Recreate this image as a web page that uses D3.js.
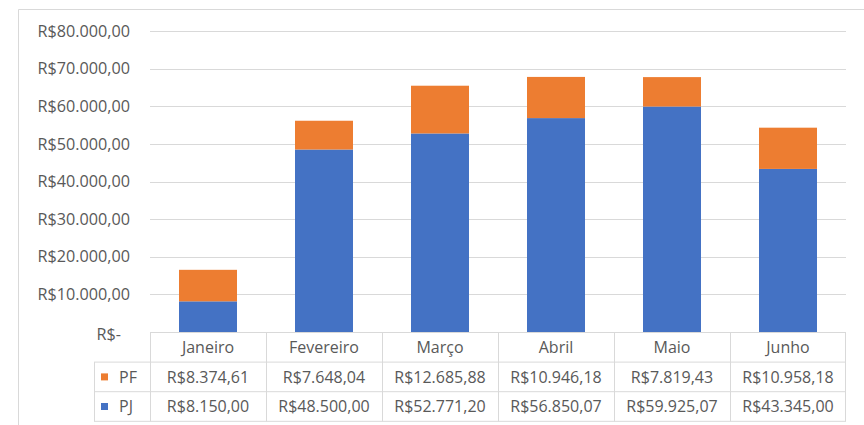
<!DOCTYPE html>
<html>
<head>
<meta charset="utf-8">
<script src="https://cdn.jsdelivr.net/npm/d3@7"></script>
<style>
  html, body { margin: 0; padding: 0; background: #fff; }
  svg { display: block; }
  text { font-family: "Open Sans", "Noto Sans", sans-serif; fill: #595959; }
</style>
</head>
<body>
<script>
const months = ["Janeiro", "Fevereiro", "Março", "Abril", "Maio", "Junho"];
const pjValues = [8150.00, 48500.00, 52771.20, 56850.07, 59925.07, 43345.00];
const pfValues = [8374.61, 7648.04, 12685.88, 10946.18, 7819.43, 10958.18];
const seriesNames = ["PF", "PJ"];
const seriesColors = ["#ED7D31", "#4472C4"];
const yTicks = [0, 10000, 20000, 30000, 40000, 50000, 60000, 70000, 80000];

const W = 864, H = 425;
const plotL = 150, plotR = 846, plotT = 31, plotB = 332;
const rowH = 29.6;
const legendL = 94;

const fmt = v => "R$" + d3.format(",.2f")(v).replace(/,/g, "#").replace(/\./g, ",").replace(/#/g, ".");

const svg = d3.select("body").append("svg").attr("width", W).attr("height", H);

// outer chart frame
svg.append("path")
  .attr("d", `M18.5,${H + 2} V9.5 H${W + 2}`)
  .attr("fill", "none").attr("stroke", "#d9d9d9").attr("stroke-width", 1);

const x = d3.scaleBand().domain(months).range([plotL, plotR]).paddingInner(0.5).paddingOuter(0.25);
const xCol = d3.scaleBand().domain(months).range([plotL, plotR]).padding(0);
const y = d3.scaleLinear().domain([0, 80000]).range([plotB, plotT]);

// gridlines
svg.append("g").selectAll("line").data(yTicks.filter(d => d > 0)).join("line")
  .attr("x1", plotL).attr("x2", plotR)
  .attr("y1", d => Math.round(y(d)) + 0.5).attr("y2", d => Math.round(y(d)) + 0.5)
  .attr("stroke", "#d9d9d9").attr("stroke-width", 1);

// y tick labels
svg.append("g").selectAll("text").data(yTicks).join("text")
  .attr("x", d => d === 0 ? 121 : 130)
  .attr("y", d => d === 0 ? y(d) + 2 : y(d))
  .attr("dy", "0.35em")
  .attr("text-anchor", "end")
  .attr("font-size", "16.2px")
  .text(d => d === 0 ? "R$-" : fmt(d));

// stacked bars
const stackData = months.map((m, i) => ({ month: m, PJ: pjValues[i], PF: pfValues[i] }));
const stack = d3.stack().keys(["PJ", "PF"])(stackData);
const colorOf = k => seriesColors[seriesNames.indexOf(k)];

svg.append("g").selectAll("g").data(stack).join("g")
  .attr("fill", s => colorOf(s.key))
  .selectAll("rect").data(s => s).join("rect")
  .attr("x", d => x(d.data.month))
  .attr("width", x.bandwidth())
  .attr("y", d => y(d[1]))
  .attr("height", d => y(d[0]) - y(d[1]));

// data table
const tg = svg.append("g");
const gridColor = "#d9d9d9";
const line = (x1, y1, x2, y2) => tg.append("line")
  .attr("x1", x1).attr("y1", y1).attr("x2", x2).attr("y2", y2)
  .attr("stroke", gridColor).attr("stroke-width", 1);

const r0 = plotB + 0.5, r1 = r0 + rowH, r2 = r1 + rowH, r3 = r2 + rowH;
line(plotL, r0, plotR, r0);
line(legendL, r1, plotR, r1);
line(legendL, r2, plotR, r2);
line(legendL, r3, plotR, r3);
line(legendL + 0.5, r1, legendL + 0.5, r3);
months.forEach(m => { const cx = Math.round(xCol(m)) + 0.5; line(cx, r0, cx, r3); });
line(plotR - 0.5, r0, plotR - 0.5, r3);

// header
tg.selectAll("text.hdr").data(months).join("text").attr("class", "hdr")
  .attr("x", m => xCol(m) + xCol.bandwidth() / 2)
  .attr("y", (r0 + r1) / 2).attr("dy", "0.35em")
  .attr("text-anchor", "middle").attr("font-size", "16px")
  .text(m => m);

// rows
const rows = [
  { name: "PF", values: pfValues, y0: r1 },
  { name: "PJ", values: pjValues, y0: r2 }
];
rows.forEach(r => {
  const cy = r.y0 + rowH / 2;
  tg.append("rect").attr("x", 101).attr("y", cy - 3.5).attr("width", 7).attr("height", 7)
    .attr("fill", colorOf(r.name));
  tg.append("text").attr("x", 119).attr("y", cy).attr("dy", "0.35em")
    .attr("font-size", "16px").text(r.name);
  tg.selectAll(null).data(r.values).join("text")
    .attr("x", (v, i) => xCol(months[i]) + xCol.bandwidth() / 2)
    .attr("y", cy).attr("dy", "0.35em")
    .attr("text-anchor", "middle").attr("font-size", "16px")
    .text(v => fmt(v));
});
</script>
</body>
</html>
